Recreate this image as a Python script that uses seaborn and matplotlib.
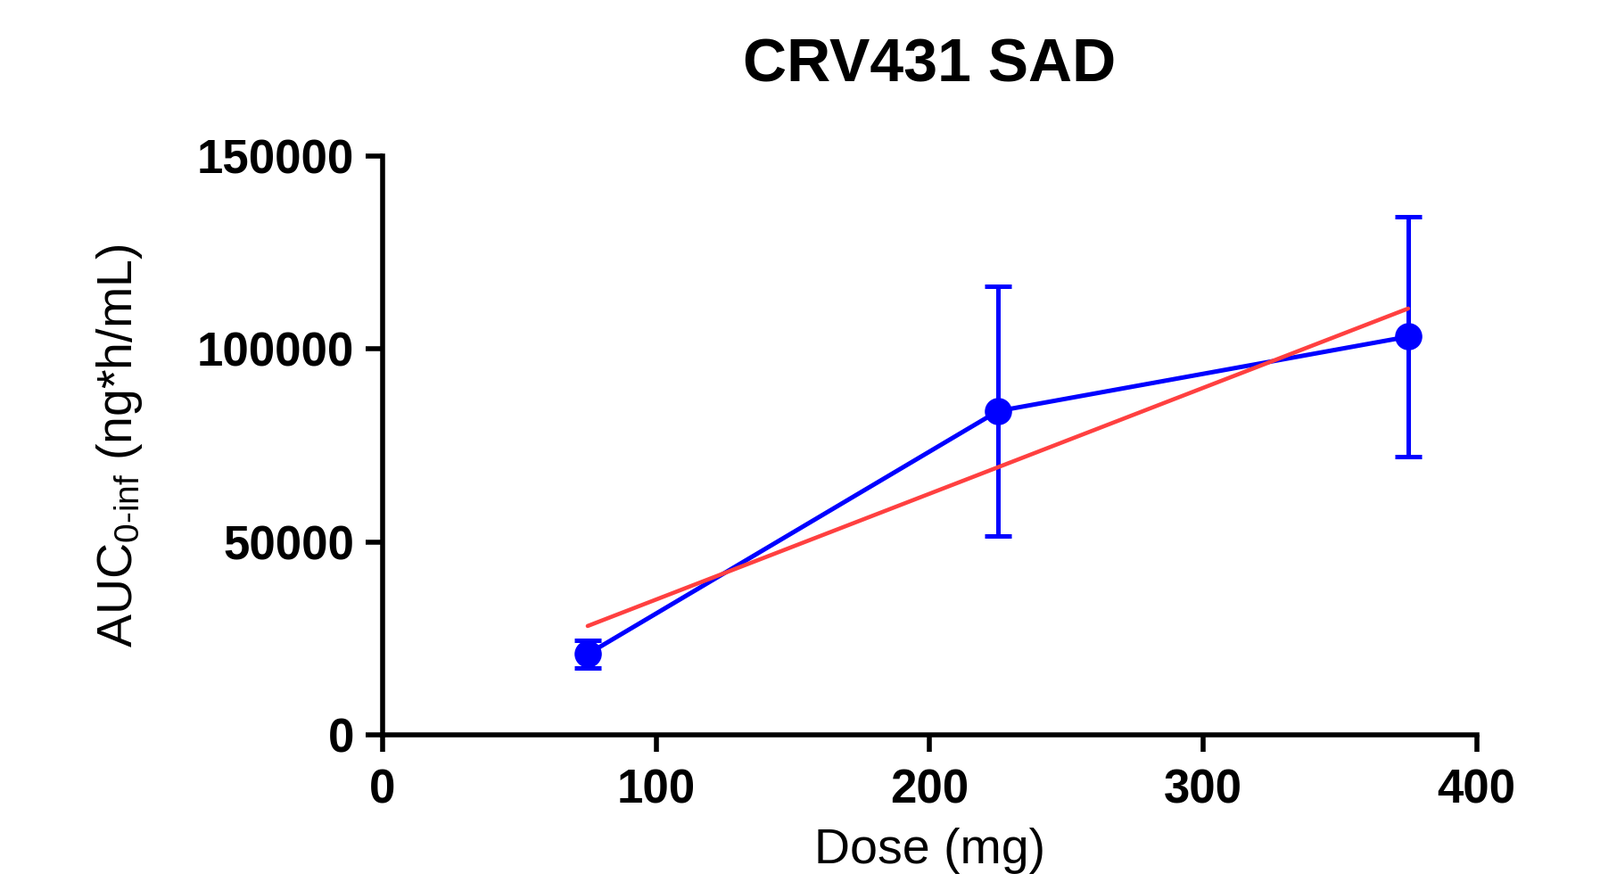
import matplotlib
matplotlib.use("Agg")
import matplotlib.pyplot as plt
import seaborn as sns
import numpy as np
import pandas as pd

# Data
dose_mg = [75, 225, 375]
auc_mean = [20900, 83900, 103200]
auc_sd = [3500, 32400, 31000]

title = "CRV431 SAD"
x_label = "Dose (mg)"
y_label = r"AUC$_{\mathregular{0\text{-}inf}}$ (ng*h/mL)"
x_ticks = [0, 100, 200, 300, 400]
y_ticks = [0, 50000, 100000, 150000]

sns.set_theme(style="ticks")
plt.rcParams['font.family'] = ['Liberation Sans', 'DejaVu Sans']
plt.rcParams['mathtext.fontset'] = 'custom'
plt.rcParams['mathtext.rm'] = 'Liberation Sans'
plt.rcParams['mathtext.it'] = 'Liberation Sans'

df = pd.DataFrame({"dose": dose_mg, "auc": auc_mean, "sd": auc_sd})

fig = plt.figure(figsize=(17.94, 9.89), dpi=100)
ax = fig.add_axes([0.2391, 0.167, 0.6837, 0.656])

blue = "#0000FF"
red = "#FF4040"

ax.errorbar(df["dose"], df["auc"], yerr=df["sd"], fmt="none", ecolor=blue,
            elinewidth=3.6, capsize=11, capthick=3.6, zorder=2)
sns.lineplot(data=df, x="dose", y="auc", ax=ax, color=blue, linewidth=3.6,
             marker="o", markersize=22, markeredgewidth=0, zorder=3)
sns.regplot(data=df, x="dose", y="auc", ax=ax, scatter=False, ci=None,
            color=red, line_kws={"linewidth": 3.3, "zorder": 4}, truncate=True)

ax.set_xlim(0, 400)
ax.set_ylim(0, 150000)
ax.set_xticks(x_ticks)
ax.set_yticks(y_ticks)
ax.set_xticklabels([str(t) for t in x_ticks], fontsize=38, fontweight="bold")
ax.set_yticklabels([str(t) for t in y_ticks], fontsize=38, fontweight="bold")

for s in ["top", "right"]:
    ax.spines[s].set_visible(False)
for s in ["left", "bottom"]:
    ax.spines[s].set_linewidth(4)
    ax.spines[s].set_color("black")
ax.tick_params(axis="both", which="major", length=14, width=4, color="black",
               labelcolor="black", direction="out")
ax.tick_params(axis="x", pad=13)
ax.tick_params(axis="y", pad=9)

ax.set_xlabel(x_label, fontsize=40, labelpad=12, color="black")
ax.set_ylabel(y_label, fontsize=40, labelpad=42, color="black")
ax.set_title(title, fontsize=49, fontweight="bold", pad=60, color="black")

fig.savefig("out.png", dpi=100, facecolor="white")
